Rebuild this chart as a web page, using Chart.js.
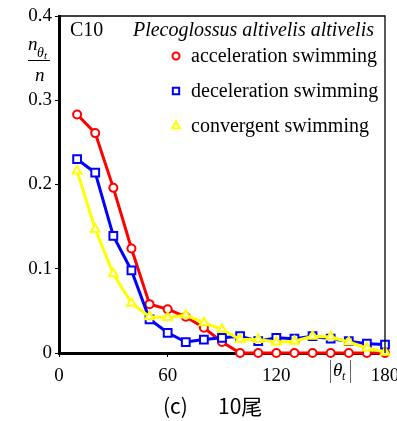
<!DOCTYPE html>
<html>
<head>
<meta charset="utf-8">
<script src="https://cdn.jsdelivr.net/npm/chart.js@4.4.0/dist/chart.umd.min.js"></script>
<style>
  body { margin: 0; background: #fff; }
  #wrap { width: 397px; height: 421px; }
</style>
</head>
<body>
<div id="wrap"><canvas id="chart" width="397" height="421"></canvas></div>
<script>
// angle bins (deg)
const angles = [10, 20, 30, 40, 50, 60, 70, 80, 90, 100, 110, 120, 130, 140, 150, 160, 170, 180];
// n_theta_t / n for each swimming type
const accelSwim = [0.283, 0.261, 0.196, 0.124, 0.058, 0.052, 0.043, 0.030, 0.013, 0, 0, 0, 0, 0, 0, 0, 0, 0];
const decelSwim = [0.230, 0.214, 0.139, 0.098, 0.040, 0.024, 0.013, 0.016, 0.018, 0.020, 0.014, 0.018, 0.017, 0.020, 0.017, 0.014, 0.011, 0.010];
const convSwim  = [0.216, 0.147, 0.094, 0.059, 0.043, 0.042, 0.045, 0.036, 0.028, 0.016, 0.016, 0.013, 0.014, 0.020, 0.019, 0.013, 0.006, 0.001];
const seriesNames = ['acceleration swimming', 'deceleration swimming', 'convergent swimming'];
const xTicks = [0, 60, 120, 180];
const yTicks = [0, 0.1, 0.2, 0.3, 0.4];

const serif = '"Liberation Serif", "Times New Roman", serif';
const RED = '#ff0000', BLUE = '#0000ff', YELLOW = '#ffff00';

function pts(arr) {
  return arr.map((v, i) => ({ x: angles[i], y: v }));
}

const styles = [
  { color: RED, pointStyle: 'circle', radius: 4, order: 3 },
  { color: BLUE, pointStyle: 'rect', radius: 5.5, order: 2 },
  { color: YELLOW, pointStyle: 'triangle', radius: 5, order: 1 }
];
const allData = [accelSwim, decelSwim, convSwim];

const datasets = allData.map((arr, i) => ({
  label: seriesNames[i],
  data: pts(arr),
  borderColor: styles[i].color,
  borderWidth: 3,
  pointStyle: styles[i].pointStyle,
  pointRadius: styles[i].radius,
  pointBorderWidth: 2,
  pointBackgroundColor: '#fff',
  pointBorderColor: styles[i].color,
  order: styles[i].order,
  clip: false,
  tension: 0
}));

const extras = {
  id: 'extras',
  afterDraw(chart) {
    const ctx = chart.ctx;
    const a = chart.chartArea;
    ctx.save();
    // top / right frame
    ctx.strokeStyle = '#000';
    ctx.lineWidth = 1.3;
    ctx.beginPath();
    ctx.moveTo(a.left, a.top);
    ctx.lineTo(a.right, a.top);
    ctx.lineTo(a.right, a.bottom);
    ctx.stroke();

    ctx.fillStyle = '#000';
    ctx.textBaseline = 'alphabetic';
    ctx.textAlign = 'left';
    ctx.font = '20px ' + serif;
    ctx.fillText('C10', 70, 36);
    ctx.font = 'italic 20px ' + serif;
    ctx.textAlign = 'right';
    ctx.fillText('Plecoglossus altivelis altivelis', 374, 36);

    // legend
    const rowY = [62, 97, 132];
    ctx.textAlign = 'left';
    ctx.font = '20px ' + serif;
    for (let i = 0; i < 3; i++) {
      ctx.fillStyle = '#fff';
      ctx.strokeStyle = styles[i].color;
      ctx.lineWidth = 2;
      Chart.helpers.drawPoint(ctx, {
        pointStyle: styles[i].pointStyle,
        radius: styles[i].pointStyle === 'circle' ? 3.5 : 4.5,
        rotation: 0,
        borderWidth: 2
      }, 176, rowY[i] - 6);
      ctx.fillStyle = '#000';
      ctx.fillText(seriesNames[i], 191, rowY[i]);
    }

    // y-axis title: n_{theta_t} / n
    ctx.font = 'italic 19px ' + serif;
    ctx.fillText('n', 28, 50);
    ctx.font = 'italic 14px ' + serif;
    ctx.fillText('\u03b8', 37, 57);
    ctx.font = 'italic 11px ' + serif;
    ctx.fillText('t', 44, 59);
    ctx.strokeStyle = '#000';
    ctx.lineWidth = 1;
    ctx.beginPath();
    ctx.moveTo(28, 60.5);
    ctx.lineTo(50, 60.5);
    ctx.stroke();
    ctx.font = 'italic 19px ' + serif;
    ctx.fillText('n', 35, 81);

    // x-axis label |theta_t|
    ctx.strokeStyle = '#666';
    ctx.beginPath();
    ctx.moveTo(330.5, 360); ctx.lineTo(330.5, 383);
    ctx.moveTo(350.5, 360); ctx.lineTo(350.5, 383);
    ctx.stroke();
    ctx.font = 'italic 19px ' + serif;
    ctx.fillText('\u03b8', 333, 376);
    ctx.font = 'italic 12px ' + serif;
    ctx.fillText('t', 342, 380);

    // caption
    ctx.font = '21px "Noto Sans CJK JP", sans-serif';
    ctx.fillText('(c)', 163, 414);
    ctx.fillText('10\u5c3e', 218, 414);
    ctx.restore();
  }
};

new Chart(document.getElementById('chart'), {
  type: 'line',
  data: { datasets: datasets },
  options: {
    responsive: false,
    animation: false,
    layout: { padding: { top: 16, right: 12, left: 0, bottom: 0 } },
    plugins: { legend: { display: false }, tooltip: { enabled: false } },
    scales: {
      x: {
        type: 'linear',
        min: 0,
        max: 180,
        afterBuildTicks: (s) => { s.ticks = xTicks.map(v => ({ value: v })); },
        afterFit: (s) => { s.height = 68; s.paddingLeft = 0; s.paddingRight = 0; },
        border: { display: true, color: '#000', width: 3 },
        grid: { display: true, drawOnChartArea: false, drawTicks: true, tickLength: 4, color: '#000', lineWidth: 1 },
        ticks: { color: '#000', font: { family: serif, size: 19 }, padding: 8, maxRotation: 0 }
      },
      y: {
        min: 0,
        max: 0.4,
        afterBuildTicks: (s) => { s.ticks = yTicks.map(v => ({ value: v })); },
        afterFit: (s) => { s.width = 59; s.paddingTop = 0; s.paddingBottom = 0; },
        border: { display: true, color: '#000', width: 3 },
        grid: { display: true, drawOnChartArea: false, drawTicks: true, tickLength: 4, color: '#000', lineWidth: 1 },
        ticks: {
          color: '#000',
          font: { family: serif, size: 19 },
          padding: 3,
          callback: (v) => v === 0 ? '0' : v.toFixed(1)
        }
      }
    }
  },
  plugins: [extras]
});
</script>
</body>
</html>
